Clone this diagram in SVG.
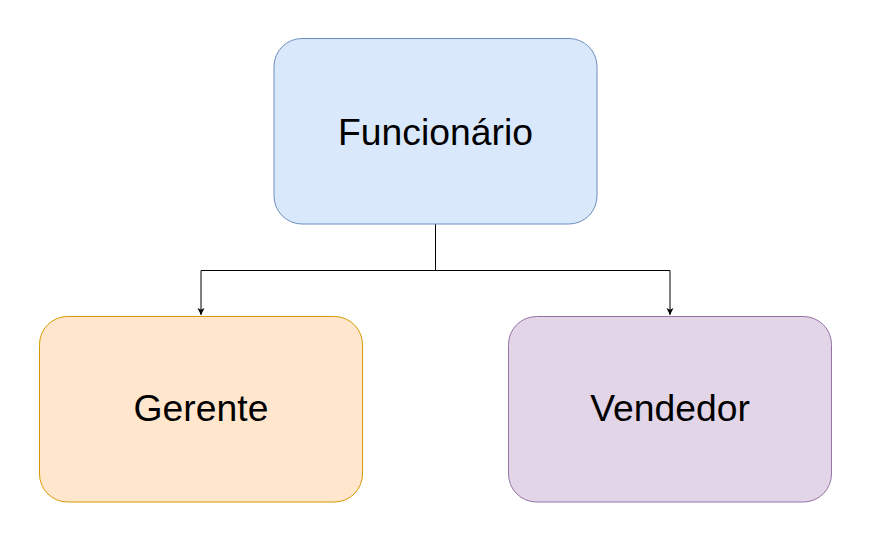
<svg xmlns="http://www.w3.org/2000/svg" width="871" height="542" viewBox="0 0 871 542">
<style>
.lbl{font-family:"Liberation Sans",Arial,sans-serif;font-size:37.3px;fill:#000;text-anchor:middle}
.edge{fill:none;stroke:#000;stroke-width:1}
</style>
<defs>
<marker id="arr" markerWidth="8" markerHeight="8" refX="7" refY="4" orient="auto" markerUnits="userSpaceOnUse">
<path d="M0,0.5 L7,4 L0,7.5 L1.75,4 Z" fill="#000"/>
</marker>
</defs>
<rect width="871" height="542" fill="#fff"/>
<g id="connectors">
<path class="edge" d="M435.5,224 V270.5 H201 V315" marker-end="url(#arr)"/>
<path class="edge" d="M435.5,270.5 H670 V315" marker-end="url(#arr)"/>
</g>
<g id="funcionario">
<rect x="274" y="38.5" width="323" height="185.5" rx="28" fill="#dae8fc" stroke="#6c8ebf"/>
<text class="lbl" x="435.5" y="144.5">Funcionário</text>
</g>
<g id="gerente">
<rect x="39.5" y="316.5" width="323" height="185.5" rx="28" fill="#ffe6cc" stroke="#d79b00"/>
<text class="lbl" x="201" y="421">Gerente</text>
</g>
<g id="vendedor">
<rect x="508.5" y="316.5" width="323" height="185.5" rx="28" fill="#e1d5e7" stroke="#9673a6"/>
<text class="lbl" x="670" y="421">Vendedor</text>
</g>
</svg>
